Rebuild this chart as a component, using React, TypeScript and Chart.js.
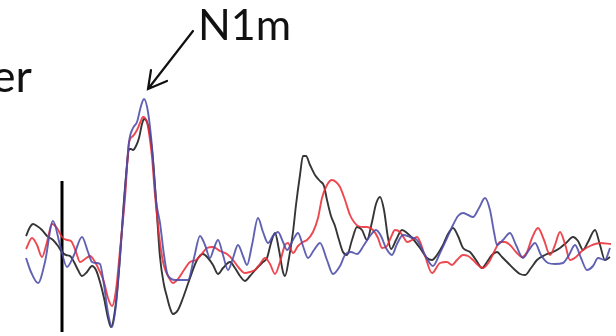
import React, { useEffect, useRef } from "react";
import { Chart, registerables } from "chart.js";

Chart.register(...registerables);

// time (ms, relative to stimulus onset) and amplitude (arbitrary units)
const blueSeries: [number, number][] = [
  [-36, -8], [-31, -22], [-24, -33], [-17, -12], [-9, 29], [-2, 5], [5, -17], [12, -5], [20, 13], [26, -2],
  [30, -12], [34, -13], [38, -14], [42, -35], [46, -63], [50, -77], [54, -55], [58, -7], [63, 60], [67, 108],
  [71, 122], [75, 128], [79, 144], [82, 151], [86, 138], [90, 103], [94, 50], [98, 27], [102, -5], [105, -23],
  [108, -28], [113, -30], [118, -30], [126, -30], [132, -8], [138, 14], [143, 5], [148, -8], [152, 2], [156, 10],
  [161, -5], [166, -20], [171, -8], [176, 5], [181, -6], [185, -15], [190, 5], [196, 32], [201, 18], [206, 7],
  [211, 14], [216, 18], [221, 8], [225, 0], [231, 10], [236, 17], [241, 4], [246, -8], [252, 0], [258, 7],
  [265, -10], [271, -24], [278, -16], [283, -5], [289, -2], [295, -4], [302, 5], [308, 14], [314, 20], [319, 14],
  [324, 2], [330, -5], [335, 6], [341, 15], [348, 13], [355, 10], [363, -5], [371, -16], [378, -3], [385, 12],
  [391, 25], [396, 34], [401, 37], [406, 35], [411, 33], [417, 42], [423, 52], [428, 40], [432, 18], [435, 5],
  [441, 10], [448, 17], [454, 5], [461, -8], [467, 0], [473, 7], [479, -5], [486, -13], [493, -14], [501, -13],
  [507, -5], [513, 5], [519, -8], [525, -20], [531, -16], [536, -8], [543, -10], [548, 2],
];

const redSeries: [number, number][] = [
  [-36, 1], [-30, 12], [-25, 5], [-20, -7], [-15, 8], [-10, 26], [-5, 22], [0, 13], [5, 10], [9, 9],
  [14, -2], [18, -12], [23, -9], [28, -6], [33, -12], [38, -22], [42, -32], [46, -48], [50, -56], [54, -40],
  [58, 0], [63, 52], [67, 107], [71, 114], [75, 120], [78, 127], [81, 133], [85, 128], [88, 110], [90, 93],
  [93, 55], [96, 25], [99, 0], [102, -16], [106, -26], [111, -33], [116, -29], [122, -20], [128, -12], [134, -10],
  [139, -5], [145, 2], [151, 3], [158, -1], [165, -4], [171, -10], [177, -18], [183, -23], [188, -22], [193, -20],
  [198, -14], [203, -8], [208, -14], [213, -24], [218, -12], [223, 5], [226, 7], [231, -3], [236, 4], [241, 8],
  [245, 10], [251, 18], [256, 32], [260, 52], [265, 65], [270, 70], [274, 68], [278, 63], [283, 50], [288, 35],
  [292, 28], [296, 24], [301, 23], [305, 23], [311, 20], [316, 12], [320, 2], [325, 4], [329, 13], [333, 20],
  [338, 18], [342, 12], [345, 8], [350, 10], [355, 13], [363, -6], [370, -23], [378, -13], [385, -12], [390, -15],
  [395, -10], [401, -5], [406, -6], [411, -10], [416, -15], [421, -18], [427, -12], [433, 0], [438, 8], [443, 8],
  [448, 5], [454, -2], [460, -7], [465, -2], [470, 12], [476, 22], [482, 10], [488, -5], [493, 5], [498, 18],
  [503, 6], [508, -10], [514, -7], [521, 0], [528, 4], [538, 7], [549, 6],
];

const blackSeries: [number, number][] = [
  [-36, 14], [-32, 23], [-29, 26], [-25, 24], [-20, 20], [-15, 14], [-9, 10], [-4, 4], [0, -2], [4, -5],
  [8, -6], [12, -12], [16, -20], [20, -26], [25, -22], [30, -16], [34, -20], [38, -32], [42, -48], [46, -68],
  [49, -77], [53, -60], [57, -20], [62, 50], [65, 85], [67, 101], [69, 101], [71, 100], [74, 104], [77, 112],
  [80, 126], [82, 131], [85, 128], [88, 115], [91, 90], [94, 50], [98, -7], [102, -35], [105, -47], [108, -58],
  [111, -64], [116, -60], [121, -48], [128, -28], [135, -10], [141, -4], [146, -8], [151, -15], [156, -24], [161, -18],
  [168, -12], [173, -18], [178, -26], [183, -31], [188, -26], [195, -18], [201, -12], [205, -8], [209, 7], [213, 17],
  [217, 0], [221, -22], [223, -26], [227, -8], [231, 18], [234, 45], [238, 75], [241, 94], [244, 94], [248, 85],
  [253, 75], [258, 69], [262, 64], [265, 50], [269, 34], [273, 24], [277, 10], [281, -2], [285, -5], [290, 10],
  [295, 23], [300, 20], [305, 10], [310, 28], [314, 46], [318, 53], [322, 40], [326, 12], [329, 1], [334, 10],
  [340, 20], [345, 17], [351, 11], [358, 2], [365, -8], [370, -10], [375, -5], [381, 5], [386, 16], [391, 22],
  [396, 14], [401, 2], [408, -2], [414, -10], [420, -18], [425, -12], [430, -5], [435, -2], [440, -7], [446, -13],
  [453, -20], [458, -24], [463, -25], [469, -18], [475, -10], [483, -5], [491, -2], [498, 2], [504, 7], [511, 13],
  [516, 9], [521, 0], [526, 8], [533, 20], [538, 5], [543, -10], [548, -7],
];

const onsetMarker: [number, number][] = [[0, 69], [0, -82]];

const peakLabel = "N1m";
const leftLabel = "er";

const toXY = (arr: [number, number][]) => arr.map(([x, y]) => ({ x, y }));

const overlayPlugin = {
  id: "overlay",
  afterDraw(chart: any) {
    const { ctx, scales } = chart;
    const px = (t: number) => scales.x.getPixelForValue(t);
    const py = (a: number) => scales.y.getPixelForValue(a);
    ctx.save();
    ctx.fillStyle = "#111";
    ctx.font = "43px Lato, 'Liberation Sans', sans-serif";
    ctx.textBaseline = "alphabetic";
    ctx.textAlign = "left";
    ctx.fillText(peakLabel, px(136), py(210));
    ctx.font = "45px Lato, 'Liberation Sans', sans-serif";
    ctx.textAlign = "right";
    ctx.fillText(leftLabel, px(-30), py(158));
    // arrow
    ctx.strokeStyle = "#111";
    ctx.lineWidth = 2.2;
    ctx.lineCap = "round";
    ctx.beginPath();
    ctx.moveTo(px(131), py(219));
    ctx.lineTo(px(86), py(161));
    ctx.moveTo(px(89), py(180));
    ctx.lineTo(px(86), py(161));
    ctx.lineTo(px(105), py(169));
    ctx.stroke();
    ctx.restore();
  },
};

export default function App() {
  const ref = useRef<HTMLCanvasElement | null>(null);
  useEffect(() => {
    document.body.style.margin = "0";
    if (!ref.current) return;
    const line = (data: [number, number][], color: string, width: number) => ({
      data: toXY(data),
      borderColor: color,
      borderWidth: width,
      pointRadius: 0,
      fill: false,
      cubicInterpolationMode: "monotone" as const,
    });
    const chart = new Chart(ref.current, {
      type: "line",
      data: {
        datasets: [
          line(blueSeries, "rgba(75,75,170,0.88)", 1.9),
          line(redSeries, "rgba(235,45,55,0.88)", 1.9),
          line(blackSeries, "rgba(25,25,25,0.88)", 1.9),
          { ...line(onsetMarker, "#000", 3), cubicInterpolationMode: "default" as const },
        ],
      },
      options: {
        animation: false,
        responsive: false,
        parsing: true,
        layout: { padding: 0 },
        plugins: { legend: { display: false }, tooltip: { enabled: false } },
        scales: {
          x: { type: "linear", min: -62, max: 554, display: false },
          y: { type: "linear", min: -86, max: 250, display: false },
        },
      },
      plugins: [overlayPlugin],
    });
    return () => chart.destroy();
  }, []);
  return <canvas ref={ref} width={616} height={336} style={{ display: "block" }} />;
}
